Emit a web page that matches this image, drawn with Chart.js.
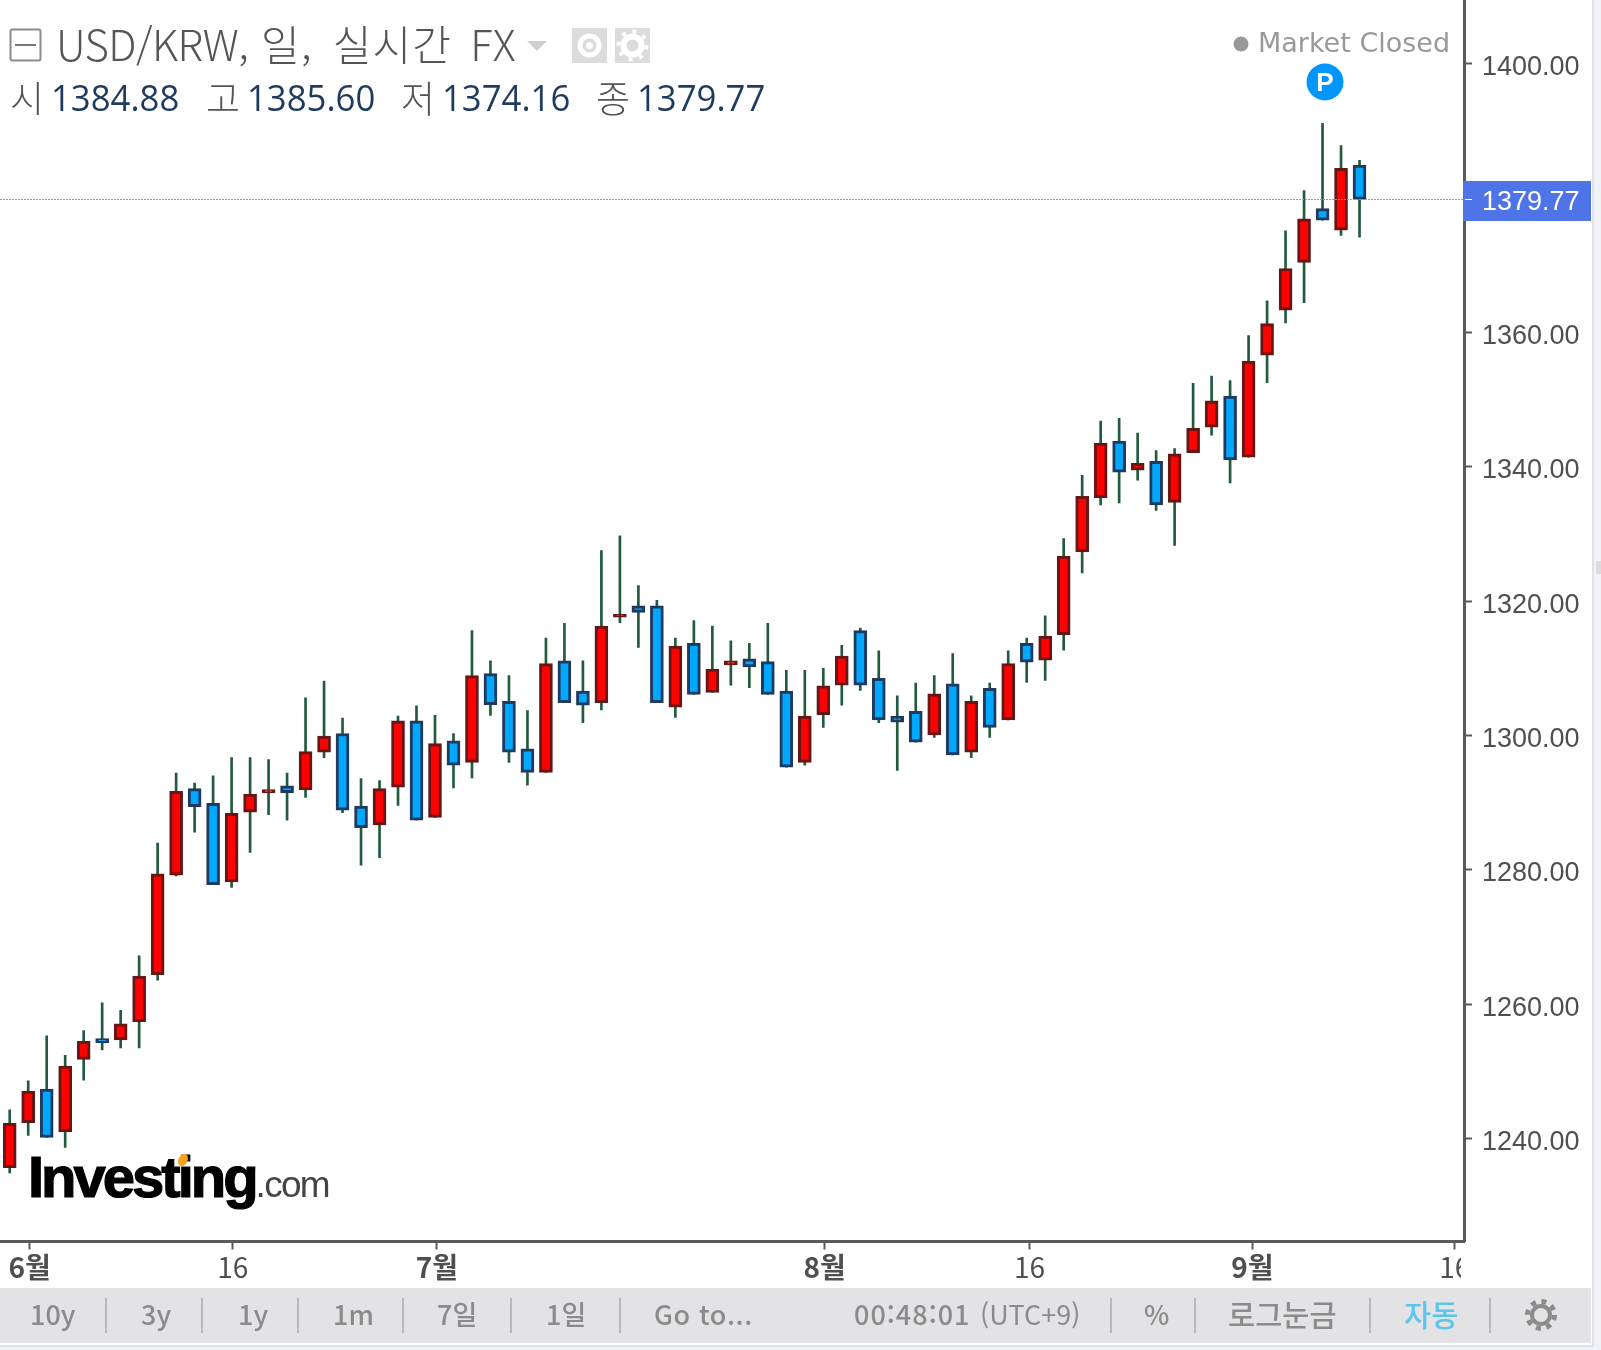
<!DOCTYPE html>
<html lang="ko">
<head>
<meta charset="utf-8">
<title>USD/KRW</title>
<script src="https://cdn.jsdelivr.net/npm/chart.js@4/dist/chart.umd.min.js"></script>
<style>
  html, body { margin: 0; padding: 0; background: #f1f2f6; }
  #page { position: relative; width: 1601px; height: 1350px; overflow: hidden; background: #f1f2f6; }
  #panel { position: absolute; left: 0; top: -2px; width: 1592px; height: 1347px; background: #fff; border-right: 2px solid #dde0e6; border-bottom: 2px solid #dde0e6; }
  #chart-wrap { position: absolute; left: 0; top: 0; width: 1592px; height: 1288px; }
  .txt { position: absolute; white-space: nowrap; font-family: "Noto Sans CJK KR", "Noto Sans", sans-serif; transform-origin: 0 50%; }
  #toolbar { position: absolute; left: 0; top: 1288px; width: 1591px; height: 55px; background: #e3e3e6; }
  #toolbar .txt { color: #8b8b8b; font-size: 27px; line-height: 55px; top: 0; font-weight: 500; }
  #toolbar .sep { position: absolute; top: 10px; width: 2px; height: 35px; background: #b9b9bb; }
  #logo { position: absolute; left: 28px; top: 1143px; font-family: "Liberation Sans", sans-serif; color: #000; filter: blur(0.7px); }
  #handle { position: absolute; left: 1596px; top: 561px; width: 5px; height: 13px; background: #dcdcdc; }
</style>
</head>
<body>
<div id="page">
  <div id="panel"></div>
  <div id="handle"></div>
  <div id="chart-wrap"><canvas id="chart" width="1592" height="1288"></canvas></div>

  <!-- legend header -->
  <svg style="position:absolute;left:9px;top:28px" width="33" height="35"><rect x="1.5" y="1.5" width="30" height="31" rx="2" fill="none" stroke="#8c8c8c" stroke-width="2"/><line x1="6" y1="17" x2="27" y2="17" stroke="#777" stroke-width="2"/></svg>
  <div class="txt" id="title" style="left:56px;top:14px;font-size:42px;font-weight:300;color:#555;line-height:58px;letter-spacing:1.2px"><span style="letter-spacing:-0.6px">USD/KRW,</span> 일,<span style="margin-left:7px"> 실시간</span><span style="margin-left:5px"> FX</span></div>
  <svg style="position:absolute;left:527px;top:41px" width="20" height="11"><path d="M0 0 L20 0 L10 10 Z" fill="#cfcfcf"/></svg>
  <svg style="position:absolute;left:572px;top:28px" width="78" height="35">
    <rect width="35" height="35" fill="#dcdcdc"/><rect x="43" width="35" height="35" fill="#dcdcdc"/>
    <ellipse cx="17.5" cy="17.5" rx="12" ry="12" fill="#fff"/><circle cx="17.5" cy="17.5" r="7" fill="#dcdcdc"/><circle cx="17.5" cy="17.5" r="3.5" fill="#fff"/>
    <circle cx="60.5" cy="17.5" r="9" fill="none" stroke="#fff" stroke-width="6"/>
    <circle cx="60.5" cy="17.5" r="14" fill="none" stroke="#fff" stroke-width="4" stroke-dasharray="4 6.9"/>
  </svg>
  <div id="ohlc"></div>

  <!-- market status -->
  <svg style="position:absolute;left:1233px;top:36px" width="16" height="16"><circle cx="8" cy="8" r="7.5" fill="#999"/></svg>
  <div class="txt" style="left:1258px;top:22px;font-size:27px;line-height:42px;color:#999;font-family:'DejaVu Sans',sans-serif">Market Closed</div>

  <!-- P marker -->
  <svg style="position:absolute;left:1306px;top:63px" width="38" height="38"><circle cx="19" cy="19" r="18.5" fill="#0096ff"/><text x="19" y="28" text-anchor="middle" font-family="Liberation Sans" font-weight="700" font-size="26" fill="#fff">P</text></svg>

  <!-- watermark -->
  <div id="logo"><span style="font-size:58px;font-weight:700;letter-spacing:-3px;-webkit-text-stroke:1.2px #000">Investing</span><span style="font-size:37px;color:#444;letter-spacing:-1.7px">.com</span></div>
  <svg style="position:absolute;left:176px;top:1153px;filter:blur(0.6px)" width="14" height="14"><ellipse cx="7" cy="7" rx="4.5" ry="6.5" fill="#f7a31c" transform="rotate(25 7 7)"/></svg>

  <div id="toolbar"></div>
</div>

<script>
// USD/KRW daily candles, June to September
const opens = [
  1235.7, 1242.4, 1247.4, 1241.0, 1251.8, 1254.9, 1254.7, 1257.4, 1264.4, 1279.2,
  1292.1, 1289.9, 1278.2, 1288.6, 1291.5, 1292.5, 1291.9, 1297.5, 1300.3, 1289.5,
  1286.7, 1292.3, 1302.2, 1287.8, 1299.2, 1296.0, 1309.2, 1305.1, 1298.0, 1294.5,
  1311.1, 1306.6, 1304.9, 1317.6, 1319.3, 1319.3, 1304.2, 1313.7, 1306.4, 1310.5,
  1311.4, 1311.0, 1306.6, 1296.0, 1303.1, 1307.5, 1315.6, 1308.5, 1302.9, 1303.6,
  1300.1, 1307.7, 1297.5, 1307.0, 1302.3, 1313.7, 1311.2, 1315.0, 1327.3, 1335.4,
  1343.8, 1339.5, 1340.8, 1334.7, 1342.1, 1345.9, 1350.5, 1341.4, 1356.6, 1363.3,
  1370.4, 1378.4, 1375.2, 1384.88
];
const closes = [
  1242.3, 1247.1, 1240.2, 1250.8, 1254.5, 1254.3, 1257.1, 1264.2, 1279.4, 1291.7,
  1289.4, 1277.8, 1288.4, 1291.3, 1291.8, 1291.5, 1297.6, 1299.9, 1288.9, 1286.3,
  1292.1, 1302.2, 1287.4, 1298.8, 1295.6, 1308.9, 1304.6, 1297.5, 1294.5, 1310.7,
  1304.9, 1304.5, 1316.3, 1317.8, 1318.3, 1304.9, 1313.3, 1306.1, 1309.9, 1311.1,
  1310.2, 1306.1, 1295.3, 1302.9, 1307.4, 1311.8, 1307.5, 1302.3, 1302.0, 1299.0,
  1306.2, 1297.1, 1305.1, 1301.2, 1310.7, 1310.9, 1314.8, 1326.7, 1335.6, 1343.5,
  1339.2, 1340.5, 1334.3, 1341.9, 1345.7, 1349.8, 1341.0, 1355.7, 1361.3, 1369.5,
  1376.9, 1376.7, 1384.4, 1379.77
];
const highs = [
  1244.3, 1248.6, 1255.3, 1252.4, 1256.1, 1260.2, 1259.1, 1267.2, 1284.0, 1294.4,
  1292.9, 1294.0, 1296.7, 1296.7, 1296.4, 1294.4, 1305.6, 1308.1, 1302.6, 1293.6,
  1293.3, 1302.9, 1304.4, 1303.0, 1300.3, 1315.6, 1311.1, 1308.9, 1303.7, 1314.5,
  1316.7, 1311.1, 1327.5, 1329.7, 1322.3, 1320.1, 1314.5, 1317.1, 1316.3, 1314.1,
  1313.7, 1316.7, 1309.7, 1309.7, 1310.0, 1313.4, 1316.0, 1312.6, 1305.9, 1307.8,
  1308.9, 1312.2, 1305.9, 1307.8, 1312.6, 1314.5, 1317.8, 1329.3, 1338.7, 1346.8,
  1347.2, 1345.0, 1342.4, 1342.7, 1352.4, 1353.5, 1352.8, 1359.5, 1364.7, 1375.1,
  1381.1, 1391.1, 1387.8, 1385.6
];
const lows = [
  1234.9, 1240.5, 1240.2, 1238.7, 1248.7, 1253.2, 1253.5, 1253.5, 1263.6, 1279.1,
  1285.6, 1277.8, 1277.4, 1282.6, 1288.2, 1287.4, 1290.8, 1296.7, 1288.5, 1280.7,
  1281.8, 1289.6, 1287.4, 1287.8, 1292.2, 1293.7, 1303.0, 1296.0, 1292.6, 1294.5,
  1304.9, 1301.9, 1303.8, 1316.8, 1313.1, 1304.9, 1302.7, 1306.1, 1306.4, 1307.5,
  1307.1, 1306.1, 1295.3, 1295.6, 1301.2, 1304.5, 1306.7, 1301.9, 1294.8, 1299.0,
  1299.7, 1297.1, 1296.7, 1299.7, 1302.3, 1307.9, 1308.2, 1312.7, 1324.2, 1334.3,
  1334.6, 1338.0, 1333.5, 1328.3, 1342.1, 1344.7, 1337.6, 1341.4, 1352.5, 1361.4,
  1364.4, 1376.7, 1374.4, 1374.16
];

const yTicks = [1240, 1260, 1280, 1300, 1320, 1340, 1360, 1380, 1400];
const xTickIndexes = [1.08, 12.06, 23.1, 44.07, 55.15, 67.2, 78.15];
const xTickLabels = ['6월', '16', '7월', '8월', '16', '9월', '16'];
const legendLabels = ['시', '고', '저', '종'];
const legendValues = ['1384.88', '1385.60', '1374.16', '1379.77'];
const rangeButtons = ['10y', '3y', '1y', '1m', '7일', '1일', 'Go to...'];
const lastPrice = 1379.77;

const UP = '#ff0000', UP_EDGE = '#671515', DOWN = '#00a8ff', DOWN_EDGE = '#1f3a5f', WICK = '#215a3d';
const AXIS = '#5a5a5a', LABEL = '#4f4f4f';

const isUp = i => closes[i] >= opens[i];

// wicks and bodies are two floating-bar datasets laid over each other
const wickData = highs.map((h, i) => ({ x: i, y: [lows[i], h] }));
const bodyData = opens.map((o, i) => ({ x: i, y: [o, closes[i]] }));

// price line plus the tag on the axis
const lastPricePlugin = {
  id: 'lastPrice',
  afterDatasetsDraw(chart) {
    const { ctx, scales: { y }, chartArea } = chart;
    const py = Math.round(y.getPixelForValue(lastPrice)) + 0.5;
    ctx.save();
    ctx.strokeStyle = '#7c96f2';
    ctx.lineWidth = 1;
    ctx.setLineDash([2, 1]);
    ctx.beginPath();
    ctx.moveTo(chartArea.left, py);
    ctx.lineTo(chartArea.right, py);
    ctx.stroke();
    ctx.restore();
  },
  afterDraw(chart) {
    const { ctx, scales: { y }, chartArea } = chart;
    const py = Math.round(y.getPixelForValue(lastPrice));
    ctx.save();
    // cuts the last month tick label off at the axis
    ctx.fillStyle = '#fff';
    ctx.fillRect(chartArea.right - 3, chartArea.bottom + 12, 60, 34);
    ctx.fillStyle = '#4f74e8';
    ctx.fillRect(chartArea.right - 1, py - 18, 128, 40);
    ctx.fillStyle = '#fff';
    ctx.fillRect(chartArea.right + 1, py, 7, 1);
    ctx.font = '27px "Liberation Sans"';
    ctx.textBaseline = 'middle';
    ctx.textAlign = 'left';
    ctx.fillText(lastPrice.toFixed(2), chartArea.right + 18, py + 4);
    ctx.restore();
  }
};

new Chart(document.getElementById('chart'), {
  type: 'bar',
  data: {
    datasets: [
      {
        data: bodyData,
        grouped: false,
        order: 1,
        barThickness: 13,
        minBarLength: 3,
        borderSkipped: false,
        borderWidth: 3,
        backgroundColor: opens.map((_, i) => isUp(i) ? UP : DOWN),
        borderColor: opens.map((_, i) => isUp(i) ? UP_EDGE : DOWN_EDGE)
      },
      {
        data: wickData,
        grouped: false,
        order: 2,
        barThickness: 2,
        borderWidth: 0,
        backgroundColor: WICK
      }
    ]
  },
  plugins: [lastPricePlugin],
  options: {
    responsive: false,
    animation: false,
    layout: { padding: 0 },
    plugins: { legend: { display: false }, tooltip: { enabled: false } },
    scales: {
      x: {
        type: 'linear',
        offset: false,
        min: -0.525,
        max: 78.65,
        afterFit: s => { s.height = 46.5; s.paddingLeft = 0; s.paddingRight = 0; },
        afterBuildTicks: s => { s.ticks = xTickIndexes.map(v => ({ value: v })); },
        grid: { drawOnChartArea: false, offset: false, tickLength: 8, tickWidth: 2, tickColor: AXIS },
        border: { color: AXIS, width: 3 },
        ticks: {
          autoSkip: false,
          maxRotation: 0,
          padding: 1,
          color: LABEL,
          font: c => ({
            family: '"Liberation Sans Narrow", "Noto Sans CJK KR"',
            size: 28,
            weight: c.tick && xTickLabels[xTickIndexes.indexOf(c.tick.value)] !== '16' ? 700 : 400
          }),
          callback: v => xTickLabels[xTickIndexes.indexOf(v)]
        }
      },
      y: {
        position: 'right',
        min: 1224.7,
        max: 1409.45,
        afterFit: s => { s.width = 128; s.paddingTop = 0; s.paddingBottom = 0; },
        afterBuildTicks: s => { s.ticks = yTicks.map(v => ({ value: v })); },
        grid: { drawOnChartArea: false, tickLength: 8, tickWidth: 2, tickColor: AXIS },
        border: { color: AXIS, width: 3 },
        ticks: {
          padding: 10,
          labelOffset: 4,
          color: LABEL,
          font: { family: '"Liberation Sans"', size: 27 },
          callback: v => v.toFixed(2)
        }
      }
    }
  }
});

// legend row with open, high, low and close
const legendX = [10, 206, 401, 596];
const valueX = [51, 247, 442, 637];
const ohlc = document.getElementById('ohlc');
legendLabels.forEach((label, i) => {
  const a = document.createElement('div');
  a.className = 'txt';
  a.textContent = label;
  a.style.cssText = `left:${legendX[i]}px;top:72px;font-size:37px;line-height:50px;font-weight:300;color:#555`;
  const b = document.createElement('div');
  b.className = 'txt';
  b.textContent = legendValues[i];
  b.style.cssText = `left:${valueX[i]}px;top:73px;font-size:36px;line-height:50px;color:#1f3a5f;font-family:"Open Sans";transform:scaleX(.965)`;
  ohlc.append(a, b);
});

// bottom toolbar
const toolbar = document.getElementById('toolbar');
const addText = (text, left, style) => {
  const d = document.createElement('div');
  d.className = 'txt';
  d.textContent = text;
  d.style.left = left + 'px';
  if (style) d.style.cssText += style;
  toolbar.append(d);
};
const buttonX = [30, 141, 238, 333, 437, 546, 654];
rangeButtons.forEach((t, i) => addText(t, buttonX[i], 'top:-2px' + (i === 6 ? ';letter-spacing:.6px' : '')));
[105, 201, 297, 402, 510, 619, 1110, 1194, 1369, 1489].forEach(x => {
  const s = document.createElement('div');
  s.className = 'sep';
  s.style.left = x + 'px';
  toolbar.append(s);
});
addText('00:48:01', 854, 'top:-2px;letter-spacing:1px');
addText('(UTC+9)', 980, 'top:-2px;font-weight:400');
addText('%', 1144, 'top:-2px');
addText('로그눈금', 1228, 'top:-2px;font-size:29.5px');
addText('자동', 1404, 'top:-2px;font-size:29.5px;color:#5cc6ea');
const gear = document.createElementNS('http://www.w3.org/2000/svg', 'svg');
gear.setAttribute('width', '32');
gear.setAttribute('height', '32');
gear.style.cssText = 'position:absolute;left:1525px;top:11px';
gear.innerHTML = '<circle cx="16" cy="16" r="9" fill="none" stroke="#8b8b8b" stroke-width="4"/><circle cx="16" cy="16" r="13.5" fill="none" stroke="#8b8b8b" stroke-width="5" stroke-dasharray="5 5.6"/>';
toolbar.append(gear);
</script>
</body>
</html>
